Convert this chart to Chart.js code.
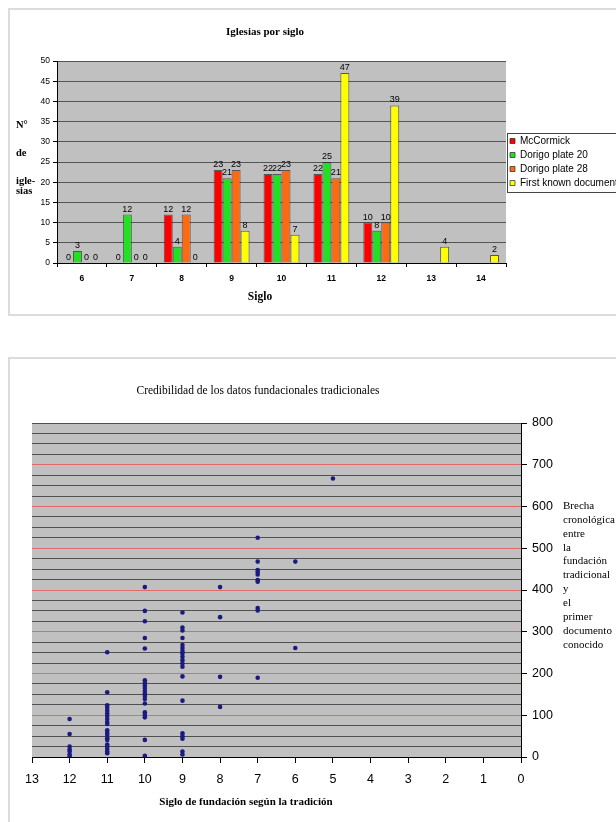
<!DOCTYPE html>
<html><head><meta charset="utf-8">
<script src="https://cdn.jsdelivr.net/npm/chart.js@4.4.1/dist/chart.umd.min.js"></script>
<style>
html,body{margin:0;padding:0;background:#fff;width:616px;height:822px;overflow:hidden;position:relative;}
#f1{position:absolute;left:8px;top:8px;width:660px;height:304px;border:2px solid #dcdcdc;}
#f2{position:absolute;left:8px;top:357px;width:660px;height:480px;border:2px solid #dcdcdc;}
canvas{display:block;}
</style></head><body>
<div id="f1"><canvas id="c1" width="660" height="304"></canvas></div>
<div id="f2"><canvas id="c2" width="660" height="480"></canvas></div>
<script>
// ---------- Chart 1 data ----------
const centuries = ['6','7','8','9','10','11','12','13','14'];
const mcCormick   = [0, 0, 12, 23, 22, 22, 10, null, null];
const dorigo20    = [3, 12, 4, 21, 22, 25, 8, null, null];
const dorigo28    = [0, 0, 12, 23, 23, 21, 10, null, null];
const firstDoc    = [0, 0, 0, 8, 7, 47, 39, 4, 2];
const seriesNames = ['McCormick', 'Dorigo plate 20', 'Dorigo plate 28', 'First known document'];
const title1 = 'Iglesias por siglo';
const xTitle1 = 'Siglo';
const yTitle1 = ['N°', 'de', 'igle-', 'sias'];

// ---------- Chart 2 data (gap in years per traditional founding century) ----------
const gap12 = [91, 55, 25, 18, 13, 6, 1];
const gap11 = [251, 155, 124, 118, 111, 104, 98, 91, 84, 79, 64, 58, 53, 45, 41, 30, 25, 19, 13, 9];
const gap10 = [407, 350, 325, 285, 260, 184, 178, 171, 165, 158, 152, 146, 139, 128, 107, 101, 95, 41, 3];
const gap9  = [346, 310, 303, 285, 268, 261, 254, 248, 240, 232, 224, 216, 193, 135, 57, 50, 44, 13, 6];
const gap8  = [407, 335, 192, 120];
const gap7  = [525, 468, 448, 443, 437, 424, 420, 357, 351, 190];
const gap6  = [468, 261];
const gap5  = [667];
const title2 = 'Credibilidad de los datos fundacionales tradicionales';
const xTitle2 = 'Siglo de fundación según la tradición';
const yTitle2 = ['Brecha', 'cronológica', 'entre', 'la', 'fundación', 'tradicional', 'y', 'el', 'primer', 'documento', 'conocido'];

Chart.defaults.font.family = '"Liberation Sans", Arial, sans-serif';
Chart.defaults.color = '#000';

const plotBg = {
  id: 'plotBg',
  beforeDraw(chart, args, opts) {
    const a = chart.chartArea, ctx = chart.ctx;
    ctx.save(); ctx.fillStyle = opts.color || '#c0c0c0';
    ctx.fillRect(a.left, a.top, a.right - a.left, a.bottom - a.top);
    ctx.restore();
  }
};

const barLabels = {
  id: 'barLabels',
  afterDatasetsDraw(chart) {
    const ctx = chart.ctx; ctx.save();
    ctx.font = '9px "Liberation Sans", Arial, sans-serif';
    ctx.fillStyle = '#000'; ctx.textAlign = 'center'; ctx.textBaseline = 'bottom';
    chart.data.datasets.forEach((ds, i) => {
      chart.getDatasetMeta(i).data.forEach((bar, j) => {
        const v = ds.data[j];
        if (v === null || v === undefined) return;
        ctx.fillText(String(v), bar.x, bar.y - 1);
      });
    });
    ctx.restore();
  }
};

const texts1 = {
  id: 'texts1',
  afterDraw(chart) {
    const ctx = chart.ctx; ctx.save();
    ctx.fillStyle = '#000'; ctx.textBaseline = 'middle';
    ctx.textAlign = 'center';
    ctx.font = 'bold 11px "Liberation Serif", serif';
    ctx.fillText(title1, 255, 22);
    ctx.font = 'bold 11.5px "Liberation Serif", serif';
    ctx.fillText(xTitle1, 250, 287);
    ctx.textAlign = 'left';
    ctx.font = 'bold 10.5px "Liberation Serif", serif';
    const ys = [115, 143, 171, 181];
    yTitle1.forEach((t, i) => ctx.fillText(t, 6, ys[i]));
    // legend frame
    const lg = chart.legend;
    if (lg && lg.legendHitBoxes && lg.legendHitBoxes.length) {
      const hb = lg.legendHitBoxes, f = hb[0], l = hb[hb.length - 1];
      const x0 = Math.round(f.left - 3) + 0.5, y0 = Math.round(f.top - 3) + 0.5;
      const y1 = Math.round(l.top + l.height + 4) + 0.5;
      ctx.strokeStyle = '#444'; ctx.lineWidth = 1;
      ctx.strokeRect(x0, y0, chart.width - x0 + 5, y1 - y0);
    }
    ctx.restore();
  }
};

const texts2 = {
  id: 'texts2',
  afterDraw(chart) {
    const ctx = chart.ctx; ctx.save();
    ctx.fillStyle = '#000'; ctx.textBaseline = 'middle'; ctx.textAlign = 'center';
    ctx.font = '11.5px "Liberation Serif", serif';
    ctx.fillText(title2, 248, 32);
    ctx.font = 'bold 11px "Liberation Serif", serif';
    ctx.fillText(xTitle2, 236, 443);
    ctx.textAlign = 'left';
    ctx.font = '11px "Liberation Serif", serif';
    yTitle2.forEach((t, i) => ctx.fillText(t, 553, 147 + i * 13.9));
    ctx.restore();
  }
};

// ---------- Chart 1 ----------
const colors = ['#ff0000', '#22e022', '#ff6a10', '#ffff00'];
const seriesData = [mcCormick, dorigo20, dorigo28, firstDoc];
const W1 = 660, H1 = 304, AREA1 = {left: 47, right: 496, top: 51, bottom: 253};

const chart1 = new Chart(document.getElementById('c1'), {
  type: 'bar',
  data: {
    labels: centuries,
    datasets: seriesData.map((d, i) => ({
      label: seriesNames[i], data: d, backgroundColor: colors[i],
      borderColor: 'rgba(40,40,40,0.7)', borderWidth: 1,
      categoryPercentage: 0.72, barPercentage: 1.0
    }))
  },
  options: {
    responsive: false, animation: false,
    layout: {padding: {left: 0, top: AREA1.top, right: 40, bottom: 0}},
    plugins: {
      tooltip: {enabled: false},
      title: {display: false},
      plotBg: {color: '#c0c0c0'},
      legend: {
        display: true, position: 'right', align: 'center', fullSize: false,
        labels: {boxWidth: 5, boxHeight: 5, padding: 4, color: '#000',
                 font: {size: 10, family: '"Liberation Sans", Arial, sans-serif'}}
      }
    },
    scales: {
      x: {
        grid: {display: true, drawOnChartArea: false, drawTicks: true, tickLength: 4, color: '#000', offset: true},
        border: {display: true, color: '#000'},
        ticks: {font: {size: 8.5, weight: 'bold'}, color: '#000', padding: 7, maxRotation: 0},
        afterFit(s) { s.height = H1 - AREA1.bottom; }
      },
      y: {
        min: 0, max: 50,
        ticks: {stepSize: 5, font: {size: 8.5}, color: '#000', padding: 3},
        grid: {color: '#555', lineWidth: 1, tickLength: 4, tickColor: '#000'},
        border: {display: true, color: '#000'},
        afterFit(s) { s.width = AREA1.left; }
      }
    }
  },
  plugins: [plotBg, barLabels, texts1]
});
// align the plot's right edge with the reference
const d1 = chart1.chartArea.right - AREA1.right;
if (Math.abs(d1) > 0.5) { chart1.options.layout.padding.right += d1; chart1.update('none'); }

// ---------- Chart 2 ----------
const groups = [[12, gap12], [11, gap11], [10, gap10], [9, gap9], [8, gap8], [7, gap7], [6, gap6], [5, gap5]];
const points = [];
groups.forEach(([c, arr]) => arr.forEach(v => points.push({x: c, y: v})));
const W2 = 660, H2 = 480, AREA2 = {left: 22, right: 511, top: 64, bottom: 398};

new Chart(document.getElementById('c2'), {
  type: 'scatter',
  data: {datasets: [{label: 'Brecha', data: points, pointRadius: 2.3, pointBackgroundColor: '#1a1a80',
                     pointBorderColor: '#1a1a80', pointBorderWidth: 0, showLine: false}]},
  options: {
    responsive: false, animation: false,
    layout: {padding: {left: AREA2.left, top: AREA2.top, right: 0, bottom: 0}},
    plugins: {legend: {display: false}, tooltip: {enabled: false}, plotBg: {color: '#c0c0c0'}},
    scales: {
      x: {
        type: 'linear', min: 0, max: 13, reverse: true,
        ticks: {stepSize: 1, font: {size: 12.5}, color: '#000', padding: 9},
        grid: {drawOnChartArea: false, drawTicks: true, tickLength: 6, tickColor: '#000'},
        border: {display: true, color: '#000'},
        afterFit(s) { s.height = H2 - AREA2.bottom; }
      },
      y: {
        position: 'right', min: 0, max: 800,
        ticks: {stepSize: 25, autoSkip: false, font: {size: 12.5}, color: '#000', padding: 5,
                callback: v => (v % 100 === 0 ? String(v) : '')},
        grid: {
          lineWidth: 1, tickLength: 6,
          color: c => (c.tick && c.tick.value % 100 === 0 && c.tick.value > 0 && c.tick.value < 800) ? '#e46a6a' : '#505050',
          tickColor: c => (c.tick && c.tick.value % 100 === 0) ? '#000' : 'rgba(0,0,0,0)'
        },
        border: {display: true, color: '#000'},
        afterFit(s) { s.width = W2 - AREA2.right; }
      }
    }
  },
  plugins: [plotBg, texts2]
});
</script>
</body></html>
